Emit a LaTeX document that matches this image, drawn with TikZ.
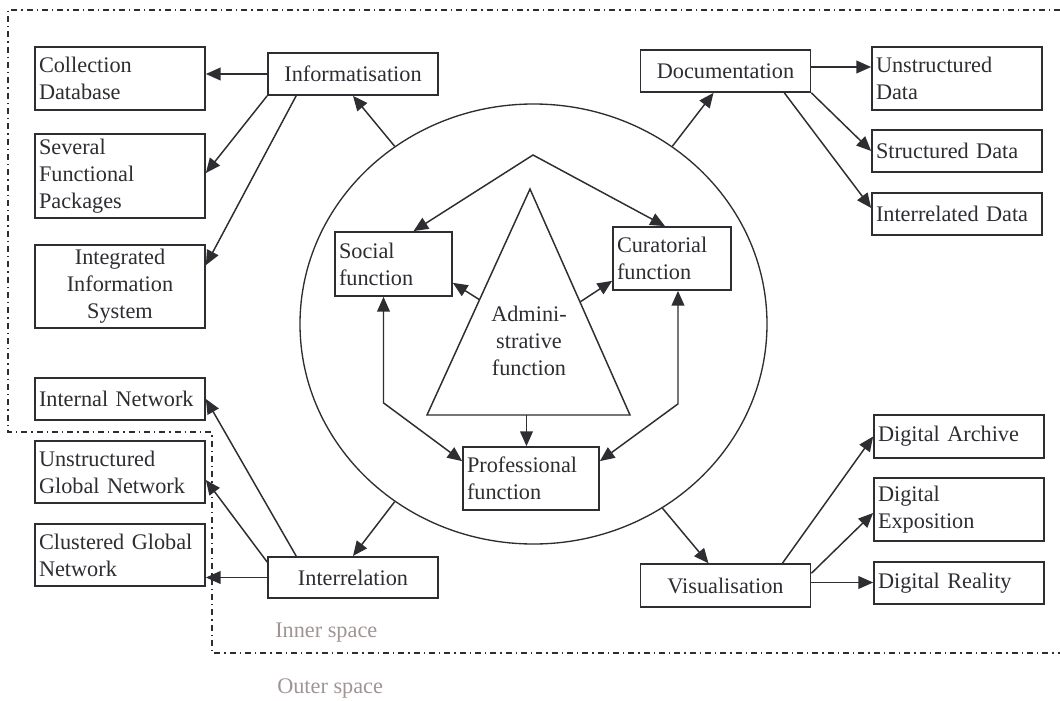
\documentclass[tikz,border=0pt]{standalone}
\usepackage{fontspec}
\setmainfont{Liberation Serif}
\usetikzlibrary{arrows.meta,calc,shapes.geometric}
\definecolor{ink}{RGB}{45,45,50}
\definecolor{spacecol}{RGB}{160,148,148}
\begin{document}
\begin{tikzpicture}[x=0.75pt,y=-0.75pt,
  txt/.style={font=\fontsize{16.7}{20.3}\selectfont},
  box/.style={draw=ink, line width=1.3pt, text=ink, inner xsep=3pt, inner ysep=0pt, txt},
  lbox/.style={box, text width=121.5pt, align=left},
  cbox/.style={box, text width=121.5pt, align=center},
  arr/.style={draw=ink, line width=1.1pt, -{Triangle[length=11pt,width=9.5pt]}},
  arrb/.style={draw=ink, line width=1.1pt, {Triangle[length=11pt,width=9.5pt]}-{Triangle[length=11pt,width=9.5pt]}},
  frame/.style={draw=ink, line width=1pt, dash pattern=on 4.5pt off 3pt on 1pt off 3pt},
  spacelabel/.style={txt, text=spacecol, inner sep=0pt, anchor=west}]
\useasboundingbox[fill=white] (0,0) rectangle (1060,700);

% dash-dot frame
\draw[frame] (1060,10) -- (8,10) -- (8,432) -- (212,432) -- (212,653) -- (1060,653);

% ring
\node[draw=ink, line width=1pt, ellipse, minimum width=350.25pt, minimum height=330pt, inner sep=0pt] (ring) at (533.5,324) {};

% boxes
\node[lbox, minimum height=47.25pt] (coll) at (120,78.5) {Collection\\Database};
\node[lbox, minimum height=63pt] (sev) at (120,176) {Several\\Functional\\Packages};
\node[cbox, minimum height=62.25pt] (integ) at (120,286.5) {Integrated\\Information\\System};
\node[cbox, minimum height=31.5pt] (info) at (353,74) {Informatisation};
\node[cbox, minimum height=31.5pt] (doc) at (725.5,71) {Documentation};
\node[lbox, minimum height=47.25pt] (unstr) at (957,78.5) {Unstructured\\Data};
\node[lbox, minimum height=31.5pt] (struc) at (957,151) {Structured Data};
\node[lbox, minimum height=31.5pt] (interd) at (957,214) {Interrelated Data};
\node[box, text width=81.75pt, align=left, minimum height=48pt] (social) at (393.5,264) {Social\\function};
\node[box, text width=82.5pt, align=left, minimum height=47.25pt] (curat) at (672,258.5) {Curatorial\\function};
\node[box, text width=96pt, align=left, minimum height=47.25pt] (prof) at (531,478.5) {Professional\\function};
\node[lbox, minimum height=31.5pt] (intnet) at (120,399) {Internal Network};
\node[lbox, minimum height=46.5pt] (ugn) at (120,472) {Unstructured\\Global Network};
\node[lbox, minimum height=46.5pt] (cgn) at (120,555) {Clustered Global\\Network};
\node[cbox, minimum height=31pt] (interrel) at (353,577.5) {Interrelation};
\node[cbox, minimum height=32pt] (vis) at (725.5,585.5) {Visualisation};
\node[lbox, minimum height=32pt] (darch) at (959,436.5) {Digital Archive};
\node[lbox, minimum height=47.25pt] (dexp) at (959,509.5) {Digital\\Exposition};
\node[lbox, minimum height=31.5pt] (dreal) at (959,583) {Digital Reality};

% triangle
\coordinate (tA) at (530,189);
\coordinate (tL) at (427,415);
\coordinate (tR) at (630,415);
\draw[ink, line width=1.1pt] (tA) -- (tL) -- (tR) -- cycle;
\node[txt, text=ink, align=center] (admin) at (529,341) {Admini-\\strative\\function};
\coordinate (apex) at (533,155);
\coordinate (tLs) at ($(tA)!0.49!(tL)$);
\coordinate (tRs) at ($(tA)!0.5!(tR)$);
\coordinate (tB) at ($(tL)!0.49!(tR)$);

% inner connectors
\draw[arrb] ($(social.north)+(20,0)$) -- (apex) -- ($(curat.north)+(-7,0)$);
\draw[arr] (tLs) -- ($(social.south east)+(0,-14)$);
\draw[arr] (tRs) -- ($(curat.south west)+(0,-10)$);
\draw[arr] (tB) -- (tB |- prof.north);
\draw[arrb] ($(social.south)+(-10,0)$) -- ++(0,106) -- ($(prof.north west)+(0,15)$);
\draw[arrb] ($(curat.south)+(6,0)$) -- ++(0,113) -- ($(prof.north east)+(0,15)$);

% informatisation
\draw[arr] (ring.128.2) -- (info.south);
\draw[arr] (info.west) -- (info.west -| coll.east);
\draw[arr] (info.south west) -- ($(sev.east)+(0,-3)$);
\draw[arr] ($(info.south west)+(29,0)$) -- ($(integ.north east)+(0,21)$);

% documentation
\coordinate (docr) at ($(doc.east)+(0,-4)$);
\draw[arr] (ring.52.1) -- ($(doc.south)+(-12,0)$);
\draw[arr] (docr) -- (docr -| unstr.west);
\draw[arr] (doc.south east) -- (struc.west);
\draw[arr] ($(doc.south east)+(-27,0)$) -- ($(interd.west)+(0,-6)$);

% interrelation
\draw[arr] (ring.232.3) -- (interrel.north);
\draw[arr] (interrel.west) -- (interrel.west -| cgn.east);
\draw[arr] ($(interrel.north west)+(0,6)$) -- ($(ugn.east)+(0,8)$);
\draw[arr] ($(interrel.north west)+(29,0)$) -- (intnet.east);

% visualisation
\coordinate (visr) at ($(vis.east)+(0,-3)$);
\draw[arr] (ring.305.7) -- ($(vis.north)+(-17,0)$);
\draw[arr] ($(vis.north east)+(-29,0)$) -- (darch.west);
\draw[arr] ($(vis.north east)+(0,10)$) -- ($(dexp.west)+(0,3.5)$);
\draw[arr] (visr) -- (visr -| dreal.west);

% space labels
\node[spacelabel] (inner) at (275,633) {Inner space};
\node[spacelabel] (outer) at (277,688) {Outer space};
\end{tikzpicture}
\end{document}
